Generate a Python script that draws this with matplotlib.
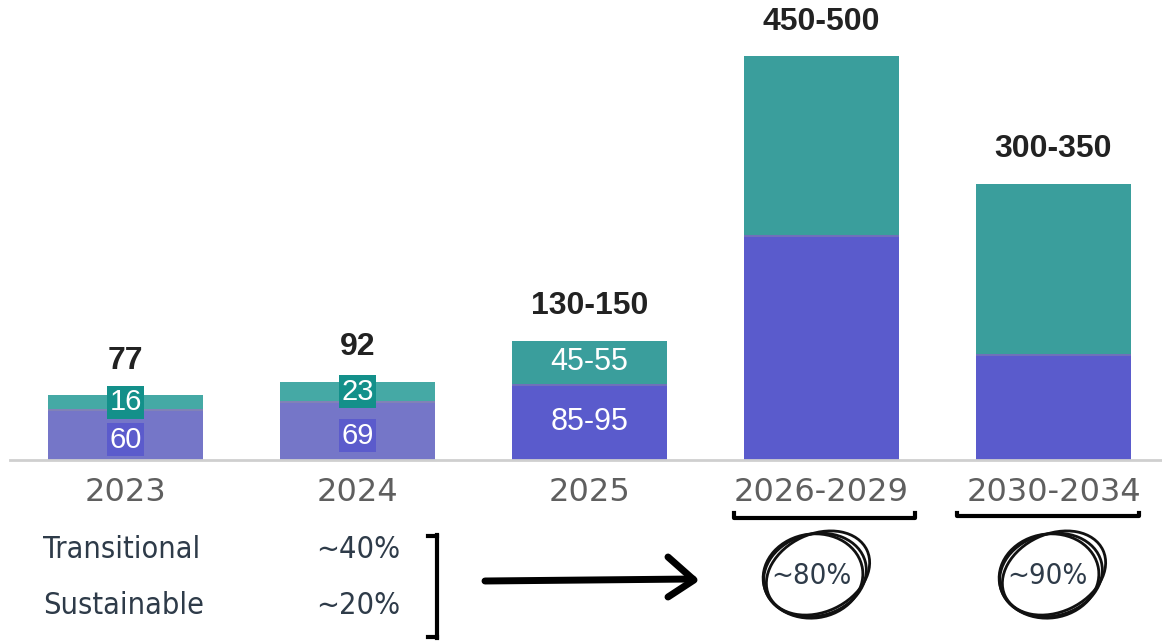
import matplotlib.pyplot as plt
from matplotlib.patches import Ellipse
from matplotlib.transforms import IdentityTransform
import matplotlib.patheffects as pe

# data
periods = ["2023", "2024", "2025", "2026-2029", "2030-2034"]
sustainable = [60, 69, 90, 265, 125]
transitional = [16, 23, 50, 210, 200]
totals = ["77", "92", "130-150", "450-500", "300-350"]
sust_labels = ["60", "69", "85-95", "", ""]
trans_labels = ["16", "23", "45-55", "", ""]
faded = [True, True, False, False, False]
share_names = ["Transitional", "Sustainable"]
share_now = ["~40%", "~20%"]
share_future = ["~80%", "~90%"]

W, H = 1162, 642
PURPLE = "#5a5bcc"
TEAL = "#3a9e9c"
PURPLE_F = "#7576c8"
TEAL_F = "#45a9a5"


def fx(x):
    return x / W


def fy(y):
    return 1 - y / H


fig = plt.figure(figsize=(W / 100, H / 100), dpi=100)
ax = fig.add_axes([0, fy(460), 1, 460 / H])

x = list(range(len(periods)))
width = 0.668
shadow = [pe.SimplePatchShadow(offset=(0, -1.5), shadow_rgbFace="#999999", alpha=0.35), pe.Normal()]

for i in x:
    pc = PURPLE_F if faded[i] else PURPLE
    tc = TEAL_F if faded[i] else TEAL
    b1 = ax.bar(i, sustainable[i], width, color=pc, zorder=2)
    b2 = ax.bar(i, transitional[i], width, bottom=sustainable[i], color=tc, zorder=2)
    for b in list(b1) + list(b2):
        b.set_path_effects(shadow)

    top = sustainable[i] + transitional[i]
    ax.annotate(totals[i], (i, top), xytext=(0, 25), textcoords="offset points",
                ha="center", va="center", fontsize=23, fontweight="bold",
                color="#222222", family="Liberation Sans")

    if faded[i]:
        ax.text(i, transitional[i] / 2 + sustainable[i], trans_labels[i], ha="center", va="center",
                fontsize=21, color="white", family="Liberation Sans", zorder=5,
                bbox=dict(boxstyle="square,pad=0.08", fc="#13908a", ec="none"))
        ax.text(i, sustainable[i] / 2 - 6, sust_labels[i], ha="center", va="center",
                fontsize=21, color="white", family="Liberation Sans", zorder=5,
                bbox=dict(boxstyle="square,pad=0.08", fc="#5b5bcc", ec="none"))
    elif sust_labels[i]:
        ax.text(i, transitional[i] / 2 + sustainable[i], trans_labels[i], ha="center", va="center",
                fontsize=22, color="white", family="Liberation Sans", zorder=5)
        ax.text(i, sustainable[i] / 2, sust_labels[i], ha="center", va="center",
                fontsize=22, color="white", family="Liberation Sans", zorder=5)

ax.set_xlim(-125.5 / 232, (W - 125.5) / 232)
ax.set_ylim(0, 460 / 0.85)
ax.set_xticks(x)
ax.set_xticklabels(periods, fontsize=23, color="#5f5f5f", family="DejaVu Sans")
ax.tick_params(axis="x", length=0, pad=12)
ax.set_yticks([])
for s in ["top", "right", "left"]:
    ax.spines[s].set_visible(False)
ax.spines["bottom"].set_color("#cfcfcf")
ax.spines["bottom"].set_linewidth(2)
ax.spines["bottom"].set_bounds(-0.5, 4.5)

# bottom annotations
txt_color = "#2e3b49"
for j, (name, val) in enumerate(zip(share_names, share_now)):
    y = 549 + j * 57
    fig.text(fx(43), fy(y), name, ha="left", va="center", fontsize=22,
             color=txt_color, family="DejaVu Sans", stretch="condensed")
    fig.text(fx(358), fy(y), val, ha="center", va="center", fontsize=22,
             color=txt_color, family="DejaVu Sans", stretch="condensed")

# bracket ]
fig.add_artist(plt.Line2D([fx(437), fx(437)], [fy(535), fy(638)], color="black", lw=3))
fig.add_artist(plt.Line2D([fx(428), fx(437)], [fy(536), fy(536)], color="black", lw=3))
fig.add_artist(plt.Line2D([fx(428), fx(437)], [fy(637), fy(637)], color="black", lw=3))

# arrow
fig.add_artist(plt.Line2D([fx(485), fx(693)], [fy(581), fy(579)], color="black", lw=5,
                          solid_capstyle="round"))
fig.add_artist(plt.Line2D([fx(668), fx(694), fx(668)], [fy(557), fy(580), fy(597)],
                          color="black", lw=5, solid_capstyle="round", solid_joinstyle="round"))

# underline brackets
for x0, x1, y in [(734, 915, 518), (957, 1139, 516)]:
    fig.add_artist(plt.Line2D([fx(x0), fx(x0), fx(x1), fx(x1)], [fy(513), fy(y), fy(y), fy(513)],
                              color="black", lw=3))

# circled percentages, hand-drawn look: overlapping tilted ellipses in pixel space
for cx, val in zip([815, 1051], share_future):
    fig.text(fx(cx - 4), fy(576), val, ha="center", va="center", fontsize=21,
             color=txt_color, family="DejaVu Sans", stretch="condensed")
    for ang, w, h, dx, dy in [(15, 104, 82, 0, 0), (25, 108, 78, 3, 2), (8, 100, 84, -2, -1)]:
        e = Ellipse((cx + dx, H - 575 + dy), w, h, angle=ang, fill=False,
                    ec="#111111", lw=2.0, transform=IdentityTransform())
        fig.add_artist(e)

fig.savefig("out.png", dpi=100, facecolor="white")
